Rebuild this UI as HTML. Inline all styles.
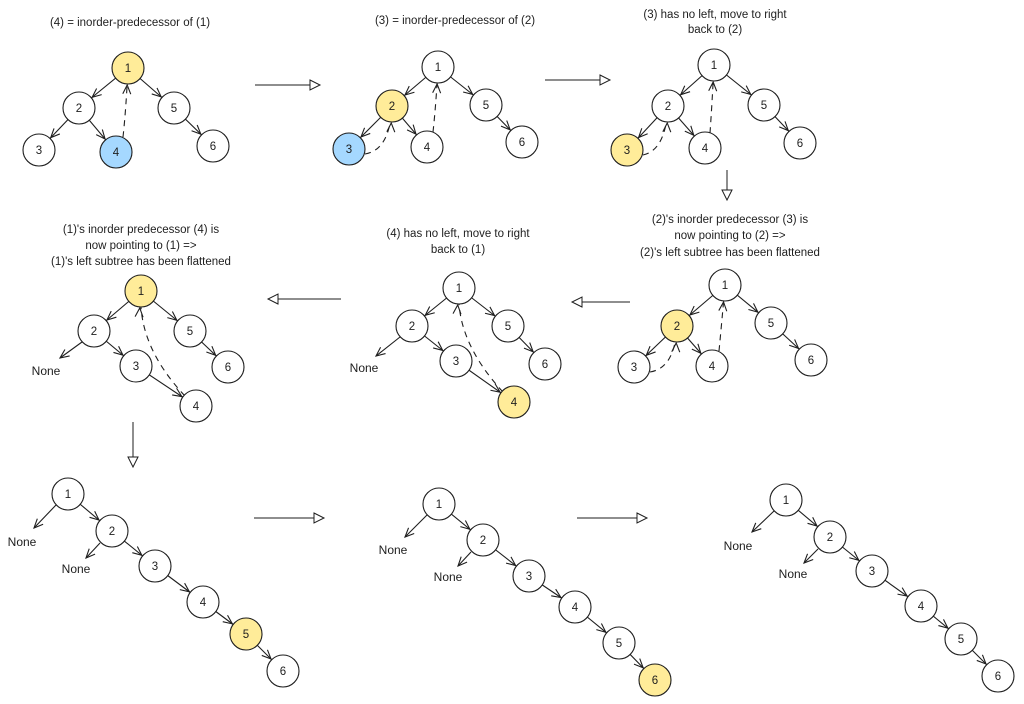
<!DOCTYPE html>
<html><head><meta charset="utf-8"><style>
html,body{margin:0;padding:0;background:#fff;}
svg{display:block;}
text{font-family:"Liberation Sans",sans-serif;font-size:11.5px;fill:#1e1e1e;text-anchor:middle;}
.n{fill:#fff;stroke:#1e1e1e;stroke-width:1.1;}
.y{fill:#ffec99;stroke:#1e1e1e;stroke-width:1.1;}
.b{fill:#a5d8ff;stroke:#1e1e1e;stroke-width:1.1;}
.e{stroke:#1e1e1e;stroke-width:1.1;fill:none;marker-end:url(#m);}
.p{stroke:#1e1e1e;stroke-width:1.1;fill:none;marker-end:url(#mp);}
.d{stroke:#1e1e1e;stroke-width:1.1;fill:none;stroke-dasharray:6 5;marker-end:url(#m);}
.a{stroke:#1e1e1e;stroke-width:1;fill:none;marker-end:url(#t);}
.lbl{font-size:12px;}
</style></head><body>
<svg width="1024" height="704" viewBox="0 0 1024 704" xmlns="http://www.w3.org/2000/svg">
<defs>
<marker id="m" viewBox="-12 -6 32 12" refX="17" refY="0" markerWidth="32" markerHeight="12" markerUnits="userSpaceOnUse" orient="auto"><path d="M-9,-4 L0,0 L-9,4" fill="none" stroke="#1e1e1e" stroke-width="1.1"/></marker>
<marker id="mp" viewBox="-12 -6 14 12" refX="0" refY="0" markerWidth="14" markerHeight="12" markerUnits="userSpaceOnUse" orient="auto"><path d="M-9,-4 L0,0 L-9,4" fill="none" stroke="#1e1e1e" stroke-width="1.1"/></marker>
<marker id="t" viewBox="-12 -7 14 14" refX="0" refY="0" markerWidth="14" markerHeight="14" markerUnits="userSpaceOnUse" orient="auto"><path d="M-10,-5 L0,0 L-10,5 Z" fill="#fff" stroke="#1e1e1e" stroke-width="1"/></marker>
</defs>

<!-- big arrows -->
<line class="a" x1="255" y1="85" x2="320" y2="85"/>
<line class="a" x1="545" y1="80" x2="610" y2="80"/>
<line class="a" x1="727" y1="170" x2="727" y2="200"/>
<line class="a" x1="630" y1="302" x2="572" y2="302"/>
<line class="a" x1="341" y1="299" x2="268" y2="299"/>
<line class="a" x1="133" y1="422" x2="133" y2="467"/>
<line class="a" x1="254" y1="518" x2="324" y2="518"/>
<line class="a" x1="577" y1="518" x2="647" y2="518"/>

<!-- Panel 1 -->
<text x="130" y="26">(4) = inorder-predecessor of (1)</text>
<line class="e" x1="128" y1="68" x2="79" y2="108"/>
<line class="e" x1="79" y1="108" x2="39" y2="150"/>
<line class="e" x1="79" y1="108" x2="116" y2="152"/>
<line class="e" x1="128" y1="68" x2="174" y2="108"/>
<line class="e" x1="174" y1="108" x2="213" y2="146"/>
<path class="d" d="M123,137 Q126,110 128,68"/>
<circle class="y" cx="128" cy="68" r="16"/><text x="128" y="72">1</text>
<circle class="n" cx="79" cy="108" r="16"/><text x="79" y="112">2</text>
<circle class="n" cx="39" cy="150" r="16"/><text x="39" y="154">3</text>
<circle class="b" cx="116" cy="152" r="16"/><text x="116" y="156">4</text>
<circle class="n" cx="174" cy="108" r="16"/><text x="174" y="112">5</text>
<circle class="n" cx="213" cy="146" r="16"/><text x="213" y="150">6</text>

<!-- Panel 2 -->
<text x="455" y="24">(3) = inorder-predecessor of (2)</text>
<line class="e" x1="438" y1="67" x2="392" y2="106"/>
<line class="e" x1="392" y1="106" x2="349" y2="149"/>
<line class="e" x1="392" y1="106" x2="427" y2="147"/>
<line class="e" x1="438" y1="67" x2="486" y2="105"/>
<line class="e" x1="486" y1="105" x2="522" y2="142"/>
<path class="d" d="M433,132 Q436,105 438,67"/>
<path class="d" d="M365,154 Q390,150 392,106"/>
<circle class="n" cx="438" cy="67" r="16"/><text x="438" y="71">1</text>
<circle class="y" cx="392" cy="106" r="16"/><text x="392" y="110">2</text>
<circle class="b" cx="349" cy="149" r="16"/><text x="349" y="153">3</text>
<circle class="n" cx="427" cy="147" r="16"/><text x="427" y="151">4</text>
<circle class="n" cx="486" cy="105" r="16"/><text x="486" y="109">5</text>
<circle class="n" cx="522" cy="142" r="16"/><text x="522" y="146">6</text>

<!-- Panel 3 -->
<text x="715" y="18">(3) has no left, move to right</text>
<text x="715" y="33">back to (2)</text>
<line class="e" x1="714" y1="65" x2="668" y2="106"/>
<line class="e" x1="668" y1="106" x2="627" y2="150"/>
<line class="e" x1="668" y1="106" x2="705" y2="148"/>
<line class="e" x1="714" y1="65" x2="764" y2="105"/>
<line class="e" x1="764" y1="105" x2="800" y2="143"/>
<path class="d" d="M710,133 Q712,105 714,65"/>
<path class="d" d="M643,155 Q666,150 668,106"/>
<circle class="n" cx="714" cy="65" r="16"/><text x="714" y="69">1</text>
<circle class="n" cx="668" cy="106" r="16"/><text x="668" y="110">2</text>
<circle class="y" cx="627" cy="150" r="16"/><text x="627" y="154">3</text>
<circle class="n" cx="705" cy="148" r="16"/><text x="705" y="152">4</text>
<circle class="n" cx="764" cy="105" r="16"/><text x="764" y="109">5</text>
<circle class="n" cx="800" cy="143" r="16"/><text x="800" y="147">6</text>

<!-- Panel 4 -->
<text x="730" y="223">(2)'s inorder predecessor (3) is</text>
<text x="730" y="239">now pointing to (2) =&gt;</text>
<text x="730" y="256">(2)'s left subtree has been flattened</text>
<line class="e" x1="725" y1="285" x2="677" y2="326"/>
<line class="e" x1="677" y1="326" x2="634" y2="367"/>
<line class="e" x1="677" y1="326" x2="712" y2="366"/>
<line class="e" x1="725" y1="285" x2="771" y2="323"/>
<line class="e" x1="771" y1="323" x2="811" y2="360"/>
<path class="d" d="M719,351 Q722,320 725,285"/>
<path class="d" d="M650,372 Q675,368 677,326"/>
<circle class="n" cx="725" cy="285" r="16"/><text x="725" y="289">1</text>
<circle class="y" cx="677" cy="326" r="16"/><text x="677" y="330">2</text>
<circle class="n" cx="634" cy="367" r="16"/><text x="634" y="371">3</text>
<circle class="n" cx="712" cy="366" r="16"/><text x="712" y="370">4</text>
<circle class="n" cx="771" cy="323" r="16"/><text x="771" y="327">5</text>
<circle class="n" cx="811" cy="360" r="16"/><text x="811" y="364">6</text>

<!-- Panel 5 -->
<text x="458" y="237">(4) has no left, move to right</text>
<text x="458" y="253">back to (1)</text>
<line class="e" x1="459" y1="288" x2="412" y2="326"/>
<line class="p" x1="400" y1="337" x2="376" y2="356"/>
<text class="lbl" x="364" y="372">None</text>
<line class="e" x1="412" y1="326" x2="456" y2="361"/>
<line class="e" x1="456" y1="361" x2="514" y2="402"/>
<line class="e" x1="459" y1="288" x2="508" y2="326"/>
<line class="e" x1="508" y1="326" x2="545" y2="364"/>
<path class="d" d="M503,392 Q455,340 459,288"/>
<circle class="n" cx="459" cy="288" r="16"/><text x="459" y="292">1</text>
<circle class="n" cx="412" cy="326" r="16"/><text x="412" y="330">2</text>
<circle class="n" cx="456" cy="361" r="16"/><text x="456" y="365">3</text>
<circle class="y" cx="514" cy="402" r="16"/><text x="514" y="406">4</text>
<circle class="n" cx="508" cy="326" r="16"/><text x="508" y="330">5</text>
<circle class="n" cx="545" cy="364" r="16"/><text x="545" y="368">6</text>

<!-- Panel 6 -->
<text x="141" y="233">(1)'s inorder predecessor (4) is</text>
<text x="141" y="249">now pointing to (1) =&gt;</text>
<text x="141" y="265">(1)'s left subtree has been flattened</text>
<line class="e" x1="141" y1="291" x2="94" y2="331"/>
<line class="p" x1="82" y1="342" x2="60" y2="358"/>
<text class="lbl" x="46" y="375">None</text>
<line class="e" x1="94" y1="331" x2="136" y2="366"/>
<line class="e" x1="136" y1="366" x2="196" y2="406"/>
<line class="e" x1="141" y1="291" x2="190" y2="331"/>
<line class="e" x1="190" y1="331" x2="228" y2="367"/>
<path class="d" d="M185,396 Q137,345 141,291"/>
<circle class="y" cx="141" cy="291" r="16"/><text x="141" y="295">1</text>
<circle class="n" cx="94" cy="331" r="16"/><text x="94" y="335">2</text>
<circle class="n" cx="136" cy="366" r="16"/><text x="136" y="370">3</text>
<circle class="n" cx="196" cy="406" r="16"/><text x="196" y="410">4</text>
<circle class="n" cx="190" cy="331" r="16"/><text x="190" y="335">5</text>
<circle class="n" cx="228" cy="367" r="16"/><text x="228" y="371">6</text>

<!-- Bottom 1 -->
<line class="p" x1="56" y1="505" x2="34" y2="528"/>
<text class="lbl" x="22" y="546">None</text>
<line class="p" x1="100" y1="543" x2="86" y2="558"/>
<text class="lbl" x="76" y="573">None</text>
<line class="e" x1="68" y1="494" x2="112" y2="531"/>
<line class="e" x1="112" y1="531" x2="155" y2="566"/>
<line class="e" x1="155" y1="566" x2="203" y2="602"/>
<line class="e" x1="203" y1="602" x2="246" y2="634"/>
<line class="e" x1="246" y1="634" x2="283" y2="671"/>
<circle class="n" cx="68" cy="494" r="16"/><text x="68" y="498">1</text>
<circle class="n" cx="112" cy="531" r="16"/><text x="112" y="535">2</text>
<circle class="n" cx="155" cy="566" r="16"/><text x="155" y="570">3</text>
<circle class="n" cx="203" cy="602" r="16"/><text x="203" y="606">4</text>
<circle class="y" cx="246" cy="634" r="16"/><text x="246" y="638">5</text>
<circle class="n" cx="283" cy="671" r="16"/><text x="283" y="675">6</text>

<!-- Bottom 2 -->
<line class="p" x1="427" y1="515" x2="405" y2="537"/>
<text class="lbl" x="393" y="554">None</text>
<line class="p" x1="471" y1="552" x2="458" y2="566"/>
<text class="lbl" x="448" y="581">None</text>
<line class="e" x1="439" y1="504" x2="483" y2="540"/>
<line class="e" x1="483" y1="540" x2="529" y2="576"/>
<line class="e" x1="529" y1="576" x2="575" y2="607"/>
<line class="e" x1="575" y1="607" x2="619" y2="643"/>
<line class="e" x1="619" y1="643" x2="655" y2="680"/>
<circle class="n" cx="439" cy="504" r="16"/><text x="439" y="508">1</text>
<circle class="n" cx="483" cy="540" r="16"/><text x="483" y="544">2</text>
<circle class="n" cx="529" cy="576" r="16"/><text x="529" y="580">3</text>
<circle class="n" cx="575" cy="607" r="16"/><text x="575" y="611">4</text>
<circle class="n" cx="619" cy="643" r="16"/><text x="619" y="647">5</text>
<circle class="y" cx="655" cy="680" r="16"/><text x="655" y="684">6</text>

<!-- Bottom 3 -->
<line class="p" x1="774" y1="511" x2="752" y2="532"/>
<text class="lbl" x="738" y="550">None</text>
<line class="p" x1="818" y1="549" x2="804" y2="563"/>
<text class="lbl" x="793" y="578">None</text>
<line class="e" x1="786" y1="500" x2="830" y2="537"/>
<line class="e" x1="830" y1="537" x2="872" y2="571"/>
<line class="e" x1="872" y1="571" x2="921" y2="606"/>
<line class="e" x1="921" y1="606" x2="961" y2="639"/>
<line class="e" x1="961" y1="639" x2="998" y2="676"/>
<circle class="n" cx="786" cy="500" r="16"/><text x="786" y="504">1</text>
<circle class="n" cx="830" cy="537" r="16"/><text x="830" y="541">2</text>
<circle class="n" cx="872" cy="571" r="16"/><text x="872" y="575">3</text>
<circle class="n" cx="921" cy="606" r="16"/><text x="921" y="610">4</text>
<circle class="n" cx="961" cy="639" r="16"/><text x="961" y="643">5</text>
<circle class="n" cx="998" cy="676" r="16"/><text x="998" y="680">6</text>
</svg>
</body></html>
